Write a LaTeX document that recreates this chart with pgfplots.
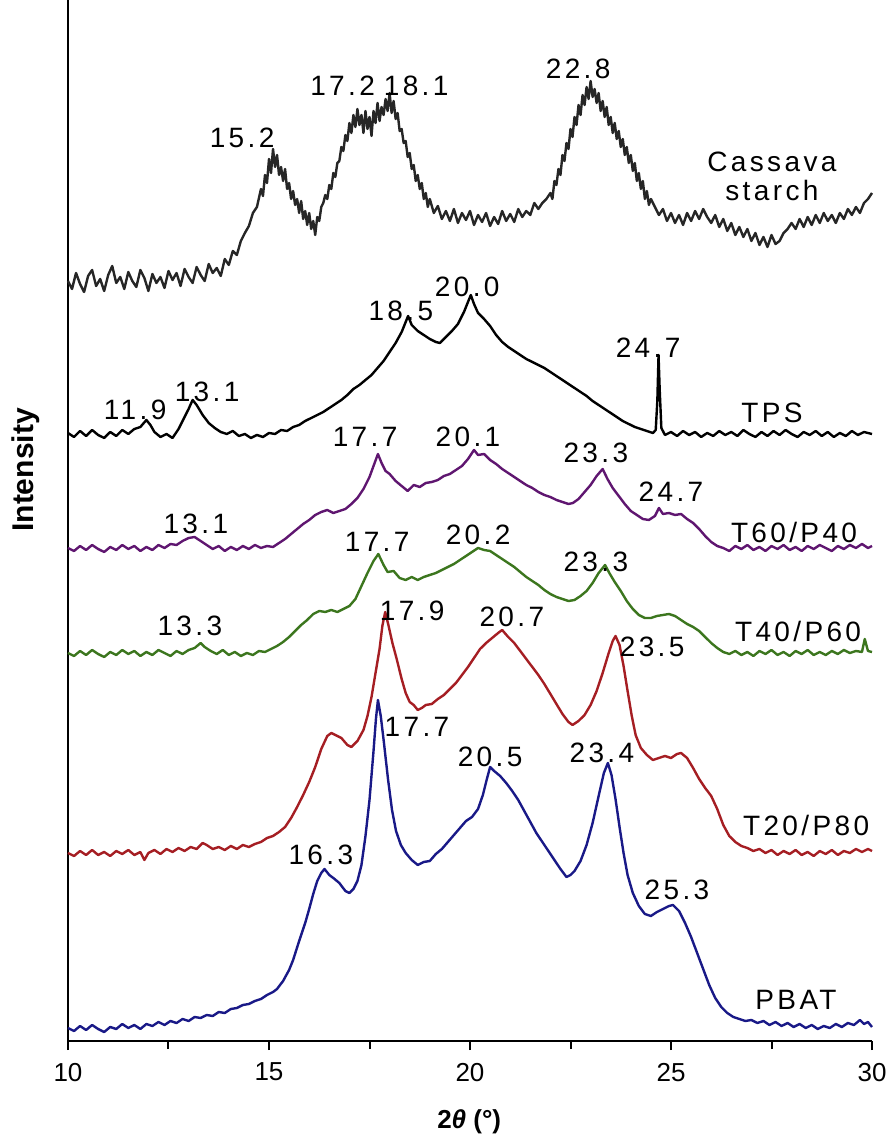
\documentclass[border=0pt]{standalone}
\usepackage{pgfplots}
\pgfplotsset{compat=1.18}
\usepackage{fontspec}
\setmainfont{Liberation Sans}
\newfontfamily\annfont[LetterSpace=12]{Liberation Sans}
\newcommand\ann{\annfont\fontsize{14}{16}\selectfont}
\definecolor{cpurple}{RGB}{95,22,112}
\definecolor{cgreen}{RGB}{60,118,30}
\definecolor{cred}{RGB}{165,30,35}
\definecolor{cblue}{RGB}{25,25,135}

\begin{document}
\begin{tikzpicture}
\useasboundingbox (-34pt,-46.5pt) rectangle (409.5pt,520.5pt);
\begin{axis}[
  at={(0pt,0pt)}, anchor=south west,
  scale only axis, width=402pt, height=520.5pt,
  xmin=10, xmax=30, ymin=0, ymax=1041,
  axis x line*=bottom, axis y line*=left,
  axis line style={line width=1.3pt, black},
  xtick={10,15,20,25,30}, minor xtick={12.5,17.5,22.5,27.5},
  ytick=\empty,
  tick align=outside, major tick length=4.5pt, minor tick length=4pt,
  every tick/.style={line width=1pt, black},
  xticklabel style={font=\fontsize{13}{15}\selectfont, yshift=-3pt},
  /pgf/number format/assume math mode=true,
  clip=false,
  every axis plot/.append style={line width=1.2pt, line join=round},
  every node/.append style={inner sep=0pt},
]
% Cassava starch
\addplot[black!85] coordinates {
(10.0,760) (10.1,752) (10.2,768) (10.3,757) (10.4,749) (10.5,765) (10.6,771) (10.7,755) (10.8,762) (10.9,750)
(11.0,766) (11.1,775) (11.2,758) (11.3,764) (11.4,752) (11.5,769) (11.6,760) (11.7,754) (11.8,771) (11.9,763)
(12.0,750) (12.1,767) (12.2,758) (12.3,764) (12.4,753) (12.5,770) (12.6,761) (12.7,768) (12.8,755) (12.9,772)
(13.0,764) (13.1,758) (13.2,774) (13.3,766) (13.4,760) (13.5,777) (13.6,768) (13.7,773) (13.8,765) (13.9,782)
(14.0,776) (14.1,790) (14.2,786) (14.3,800) (14.4,808) (14.5,815) (14.6,828) (14.7,834)
(14.8,852) (14.85,845) (14.9,866) (14.95,858) (15.0,882) (15.05,868) (15.1,892) (15.15,874) (15.2,886) (15.25,866)
(15.3,874) (15.35,860) (15.4,872) (15.45,852) (15.5,858) (15.55,842) (15.6,850) (15.65,836) (15.7,842) (15.75,828)
(15.8,840) (15.85,822) (15.9,830) (15.95,816) (16.0,828) (16.05,812) (16.1,820) (16.15,806) (16.2,824) (16.25,820)
(16.3,834) (16.35,838) (16.4,846) (16.45,842) (16.5,856) (16.55,852) (16.6,868) (16.65,864) (16.7,878) (16.75,880)
(16.8,894) (16.85,890) (16.9,906) (16.95,900) (17.0,918) (17.05,908) (17.1,926) (17.15,914) (17.2,932) (17.25,916)
(17.3,926) (17.35,908) (17.4,930) (17.45,912) (17.5,924) (17.55,905) (17.6,930) (17.65,918) (17.7,938) (17.75,920)
(17.8,934) (17.85,926) (17.9,942) (17.95,930) (18.0,948) (18.05,928) (18.1,940) (18.15,922) (18.2,928) (18.25,910)
(18.3,912) (18.35,898) (18.4,900) (18.45,884) (18.5,888) (18.55,872) (18.6,876) (18.65,860) (18.7,866) (18.75,852)
(18.8,858) (18.85,842) (18.9,848) (18.95,834) (19.0,842) (19.1,828) (19.2,835) (19.3,822) (19.4,830) (19.5,820)
(19.6,832) (19.7,818) (19.8,828) (19.9,821) (20.0,830) (20.1,816) (20.2,826) (20.3,819) (20.4,828) (20.5,815)
(20.6,824) (20.7,817) (20.8,830) (20.9,820) (21.0,827) (21.1,819) (21.2,832) (21.3,824) (21.4,830) (21.5,826)
(21.6,838) (21.7,832) (21.8,838) (21.9,842)
(22.0,848) (22.05,842) (22.1,860) (22.15,856) (22.2,872) (22.25,866) (22.3,886) (22.35,880) (22.4,898) (22.45,892)
(22.5,912) (22.55,904) (22.6,924) (22.65,916) (22.7,936) (22.75,926) (22.8,946) (22.85,936) (22.9,954) (22.95,942)
(23.0,960) (23.05,944) (23.1,952) (23.15,938) (23.2,948) (23.25,930) (23.3,940) (23.35,924) (23.4,934) (23.45,916)
(23.5,924) (23.55,908) (23.6,918) (23.65,902) (23.7,910) (23.75,894) (23.8,902) (23.85,886) (23.9,894) (23.95,878)
(24.0,886) (24.05,870) (24.1,878) (24.15,860) (24.2,868) (24.25,852) (24.3,860) (24.35,842) (24.4,850) (24.45,836)
(24.5,842) (24.6,834) (24.7,826) (24.8,832) (24.9,820) (25.0,828) (25.1,818) (25.2,826) (25.3,816) (25.4,828)
(25.5,820) (25.6,830) (25.7,822) (25.8,832) (25.9,824) (26.0,818) (26.1,826) (26.2,814) (26.3,822) (26.4,810)
(26.5,818) (26.6,806) (26.7,814) (26.8,804) (26.9,812) (27.0,800) (27.1,808) (27.2,796) (27.3,804) (27.4,794)
(27.5,806) (27.6,797) (27.7,800) (27.8,808) (27.9,812) (28.0,818) (28.1,812) (28.2,822) (28.3,814) (28.4,824)
(28.5,816) (28.6,826) (28.7,818) (28.8,828) (28.9,820) (29.0,826) (29.1,818) (29.2,828) (29.3,822) (29.4,832)
(29.5,826) (29.6,834) (29.7,828) (29.8,838) (29.9,842) (30.0,848)
};
% TPS
\addplot[black] coordinates {
(10.0,608) (10.15,604) (10.3,610) (10.45,605) (10.6,611) (10.75,606) (10.9,603) (11.05,609) (11.2,605) (11.35,611)
(11.5,607) (11.65,612) (11.8,614) (11.95,621) (12.05,616) (12.15,609) (12.3,604) (12.45,607) (12.6,603) (12.75,612)
(12.9,624) (13.0,632) (13.1,641) (13.2,636) (13.35,626) (13.5,618) (13.65,613) (13.8,609) (13.95,607) (14.1,610)
(14.25,605) (14.4,607) (14.55,603) (14.7,606) (14.85,604) (15.0,608) (15.15,607) (15.3,611) (15.45,610) (15.6,614)
(15.75,616) (15.9,620) (16.05,623) (16.2,626) (16.35,629) (16.5,633) (16.65,637) (16.8,641) (16.95,646) (17.1,652)
(17.25,656) (17.4,661) (17.55,666) (17.7,673) (17.85,680) (18.0,689) (18.15,698) (18.3,709) (18.4,719) (18.46,725)
(18.55,716) (18.7,710) (18.85,706) (19.0,702) (19.15,699) (19.25,698) (19.4,704) (19.55,710) (19.7,717) (19.85,729)
(19.95,739) (20.02,746) (20.1,737) (20.2,728) (20.35,722) (20.5,715) (20.65,706) (20.8,699) (20.95,694) (21.1,690)
(21.25,686) (21.4,682) (21.55,679) (21.7,676) (21.85,673) (22.0,669) (22.15,665) (22.3,661) (22.45,657) (22.6,653)
(22.75,649) (22.9,645) (23.05,640) (23.2,636) (23.35,632) (23.5,628) (23.65,624) (23.8,620) (23.95,617) (24.1,614)
(24.25,612) (24.4,610) (24.55,608) (24.62,611) (24.66,640) (24.69,686) (24.72,650) (24.76,613) (24.85,606) (25.0,609)
(25.15,605) (25.3,610) (25.45,606) (25.6,609) (25.75,604) (25.9,608) (26.05,605) (26.2,610) (26.35,606) (26.5,609)
(26.65,605) (26.8,611) (26.95,607) (27.1,604) (27.25,609) (27.4,605) (27.55,610) (27.7,606) (27.85,611) (28.0,607)
(28.15,604) (28.3,609) (28.45,606) (28.6,610) (28.75,605) (28.9,609) (29.05,604) (29.2,608) (29.35,605) (29.5,610)
(29.65,606) (29.8,609) (30.0,607)
};
% T60/P40
\addplot[cpurple] coordinates {
(10.0,493) (10.15,490) (10.3,495) (10.45,491) (10.6,496) (10.75,492) (10.9,489) (11.05,494) (11.2,491) (11.35,496)
(11.5,492) (11.65,495) (11.8,490) (11.95,494) (12.1,491) (12.25,496) (12.4,493) (12.55,497) (12.7,496) (12.85,500)
(13.0,503) (13.15,504) (13.3,500) (13.45,496) (13.6,492) (13.75,495) (13.9,490) (14.05,494) (14.2,491) (14.35,495)
(14.5,492) (14.65,496) (14.8,493) (14.95,495) (15.1,494) (15.25,498) (15.4,502) (15.55,507) (15.7,512) (15.85,517)
(16.0,521) (16.15,526) (16.3,529) (16.45,531) (16.6,528) (16.75,530) (16.9,532) (17.05,537) (17.2,543) (17.35,552)
(17.5,564) (17.6,575) (17.71,587) (17.8,578) (17.9,570) (18.0,567) (18.15,560) (18.3,555) (18.45,550) (18.6,556)
(18.75,554) (18.9,558) (19.05,559) (19.2,561) (19.35,565) (19.5,567) (19.65,571) (19.8,575) (19.95,582) (20.1,591)
(20.2,586) (20.35,587) (20.5,581) (20.65,577) (20.8,572) (20.95,568) (21.1,564) (21.25,560) (21.4,556) (21.55,553)
(21.7,549) (21.85,546) (22.0,544) (22.15,541) (22.3,539) (22.45,537) (22.56,538) (22.7,542) (22.85,549) (23.0,556)
(23.15,565) (23.3,572) (23.42,562) (23.55,553) (23.7,545) (23.85,537) (24.0,530) (24.15,526) (24.3,522) (24.45,521)
(24.6,525) (24.7,533) (24.8,527) (24.95,528) (25.1,526) (25.25,527) (25.4,522) (25.55,518) (25.7,512) (25.85,505)
(26.0,499) (26.15,495) (26.3,493) (26.45,490) (26.6,495) (26.75,492) (26.9,496) (27.05,491) (27.2,494) (27.35,490)
(27.5,495) (27.65,492) (27.8,496) (27.95,491) (28.1,494) (28.25,490) (28.4,495) (28.55,492) (28.7,496) (28.85,493)
(29.0,490) (29.15,495) (29.3,492) (29.45,496) (29.6,493) (29.75,497) (29.9,493) (30.0,495)
};
% T40/P60
\addplot[cgreen] coordinates {
(10.0,388) (10.15,385) (10.3,390) (10.45,386) (10.6,391) (10.75,387) (10.9,384) (11.05,389) (11.2,386) (11.35,391)
(11.5,387) (11.65,390) (11.8,385) (11.95,389) (12.1,386) (12.25,391) (12.4,388) (12.55,385) (12.7,390) (12.85,387)
(13.0,391) (13.15,393) (13.3,398) (13.4,394) (13.55,390) (13.7,387) (13.85,391) (14.0,386) (14.15,389) (14.3,385)
(14.45,388) (14.6,386) (14.75,390) (14.9,389) (15.05,392) (15.2,395) (15.35,399) (15.5,404) (15.65,410) (15.8,416)
(15.95,421) (16.1,427) (16.25,430) (16.4,429) (16.55,431) (16.7,429) (16.85,432) (17.0,435) (17.15,442) (17.3,455)
(17.45,468) (17.6,480) (17.72,487) (17.85,476) (17.95,469) (18.1,470) (18.25,463) (18.4,461) (18.55,464) (18.7,461)
(18.85,464) (19.0,466) (19.15,468) (19.3,471) (19.45,474) (19.6,477) (19.75,481) (19.9,485) (20.05,489) (20.2,493)
(20.35,491) (20.5,490) (20.65,486) (20.8,482) (20.95,478) (21.1,474) (21.25,469) (21.4,464) (21.55,460) (21.7,456)
(21.85,451) (22.0,447) (22.15,444) (22.3,442) (22.45,440) (22.6,441) (22.75,445) (22.9,450) (23.05,458) (23.2,468)
(23.36,476) (23.48,467) (23.6,459) (23.75,450) (23.9,440) (24.05,432) (24.2,426) (24.35,423) (24.5,423) (24.65,425)
(24.8,426) (24.95,427) (25.1,425) (25.25,421) (25.4,417) (25.55,414) (25.7,410) (25.85,404) (26.0,398) (26.15,393)
(26.3,389) (26.45,387) (26.6,390) (26.75,386) (26.9,389) (27.05,385) (27.2,390) (27.35,387) (27.5,391) (27.65,386)
(27.8,389) (27.95,385) (28.1,390) (28.25,387) (28.4,391) (28.55,386) (28.7,389) (28.85,386) (29.0,390) (29.15,387)
(29.3,391) (29.45,388) (29.6,390) (29.75,389) (29.82,402) (29.9,390) (30.0,389)
};
% T20/P80
\addplot[cred] coordinates {
(10.0,188) (10.15,185) (10.3,190) (10.45,186) (10.6,191) (10.75,186) (10.9,189) (11.05,185) (11.2,190) (11.35,187)
(11.5,191) (11.65,186) (11.8,189) (11.9,181) (12.0,188) (12.15,191) (12.3,187) (12.45,192) (12.6,189) (12.75,193)
(12.9,190) (13.05,194) (13.2,192) (13.35,198) (13.45,196) (13.6,192) (13.75,194) (13.9,191) (14.05,195) (14.2,192)
(14.35,196) (14.5,194) (14.65,197) (14.8,199) (14.95,203) (15.1,205) (15.25,209) (15.4,214) (15.55,223) (15.7,234)
(15.85,246) (16.0,259) (16.15,274) (16.3,292) (16.45,305) (16.55,308) (16.65,306) (16.8,303) (16.95,296) (17.05,294)
(17.2,300) (17.35,311) (17.45,325) (17.55,344) (17.65,368) (17.75,392) (17.82,415) (17.89,429) (17.97,416) (18.07,398)
(18.17,383) (18.3,362) (18.4,348) (18.5,339) (18.6,336) (18.7,331) (18.8,333) (18.9,336) (19.05,337) (19.2,342)
(19.35,346) (19.5,352) (19.65,358) (19.8,366) (19.95,374) (20.1,383) (20.25,392) (20.4,398) (20.55,403) (20.7,408)
(20.8,411) (20.95,404) (21.1,398) (21.25,390) (21.4,382) (21.55,374) (21.7,366) (21.85,357) (22.0,347) (22.15,337)
(22.3,327) (22.45,319) (22.55,316) (22.7,320) (22.85,326) (23.0,336) (23.15,350) (23.3,368) (23.45,388) (23.55,400)
(23.62,405) (23.72,396) (23.82,375) (23.92,350) (24.02,326) (24.12,306) (24.25,293) (24.4,286) (24.55,281) (24.7,283)
(24.85,285) (25.0,283) (25.15,287) (25.25,288) (25.4,283) (25.55,273) (25.7,262) (25.85,253) (26.0,245) (26.15,232)
(26.3,216) (26.45,205) (26.6,199) (26.75,195) (26.9,193) (27.05,190) (27.2,192) (27.35,188) (27.5,191) (27.65,186)
(27.8,190) (27.95,187) (28.1,191) (28.25,186) (28.4,189) (28.55,185) (28.7,190) (28.85,187) (29.0,191) (29.15,186)
(29.3,190) (29.45,188) (29.6,192) (29.75,189) (29.9,192) (30.0,190)
};
% PBAT
\addplot[cblue] coordinates {
(10.0,13) (10.15,10) (10.3,15) (10.45,11) (10.6,16) (10.75,12) (10.9,9) (11.05,14) (11.2,12) (11.35,17)
(11.5,13) (11.65,16) (11.8,12) (11.95,17) (12.1,15) (12.25,19) (12.4,16) (12.55,20) (12.7,18) (12.85,22)
(13.0,20) (13.15,24) (13.3,23) (13.45,26) (13.6,25) (13.75,29) (13.9,28) (14.05,32) (14.2,33) (14.35,36)
(14.5,37) (14.65,40) (14.8,42) (14.95,46) (15.1,49) (15.2,52) (15.35,60) (15.5,71) (15.6,81) (15.75,100)
(15.9,118) (16.0,132) (16.1,147) (16.2,160) (16.3,168) (16.38,172) (16.5,166) (16.6,163) (16.75,158) (16.9,150)
(17.0,148) (17.1,152) (17.2,160) (17.3,176) (17.4,205) (17.5,241) (17.6,290) (17.66,322) (17.71,341) (17.78,325)
(17.86,298) (17.96,262) (18.06,231) (18.16,210) (18.28,196) (18.4,188) (18.55,181) (18.7,176) (18.85,179) (19.0,180)
(19.15,187) (19.3,192) (19.45,199) (19.6,206) (19.75,213) (19.9,220) (20.05,224) (20.2,232) (20.32,246) (20.42,262)
(20.5,274) (20.6,270) (20.75,265) (20.9,258) (21.05,250) (21.2,241) (21.35,230) (21.5,219) (21.65,208) (21.8,199)
(21.95,190) (22.1,181) (22.25,172) (22.4,164) (22.5,166) (22.6,170) (22.75,180) (22.9,196) (23.05,218) (23.2,245)
(23.33,268) (23.43,278) (23.52,266) (23.62,242) (23.72,214) (23.82,188) (23.92,166) (24.05,148) (24.2,135) (24.35,127)
(24.5,125) (24.65,129) (24.8,132) (24.95,135) (25.05,136) (25.2,130) (25.35,118) (25.5,104) (25.65,88) (25.8,72)
(25.95,56) (26.1,43) (26.25,34) (26.4,28) (26.55,24) (26.7,22) (26.85,20) (27.0,21) (27.15,18) (27.3,20)
(27.45,16) (27.6,19) (27.75,15) (27.9,18) (28.05,14) (28.2,17) (28.35,13) (28.5,16) (28.65,12) (28.8,15)
(28.95,13) (29.1,17) (29.25,14) (29.4,18) (29.55,16) (29.7,21) (29.8,17) (29.9,19) (30.0,14)
};
% peak labels
\node[font=\ann] at (axis cs:14.33,903) {15.2};
\node[font=\ann] at (axis cs:16.83,955) {17.2};
\node[font=\ann] at (axis cs:18.66,955) {18.1};
\node[font=\ann] at (axis cs:22.69,972) {22.8};
\node[font=\ann] at (axis cs:27.51,879) {Cassava};
\node[font=\ann] at (axis cs:27.51,850) {starch};
\node[font=\ann] at (axis cs:19.93,754) {20.0};
\node[font=\ann] at (axis cs:18.28,730) {18.5};
\node[font=\ann] at (axis cs:24.43,693) {24.7};
\node[font=\ann] at (axis cs:11.67,631) {11.9};
\node[font=\ann] at (axis cs:13.46,649) {13.1};
\node[font=\ann] at (axis cs:27.51,628) {TPS};
\node[font=\ann] at (axis cs:17.39,604) {17.7};
\node[font=\ann] at (axis cs:19.95,604) {20.1};
\node[font=\ann] at (axis cs:23.13,588) {23.3};
\node[font=\ann] at (axis cs:25.0,549) {24.7};
\node[font=\ann] at (axis cs:13.18,517) {13.1};
\node[font=\ann] at (axis cs:28.06,509) {T60/P40};
\node[font=\ann] at (axis cs:17.69,499) {17.7};
\node[font=\ann] at (axis cs:20.20,506) {20.2};
\node[font=\ann] at (axis cs:23.13,479) {23.3};
\node[font=\ann] at (axis cs:13.03,415) {13.3};
\node[font=\ann] at (axis cs:28.16,410) {T40/P60};
\node[font=\ann] at (axis cs:18.56,430) {17.9};
\node[font=\ann] at (axis cs:21.04,424) {20.7};
\node[font=\ann] at (axis cs:24.53,394) {23.5};
\node[font=\ann] at (axis cs:28.36,216) {T20/P80};
\node[font=\ann] at (axis cs:18.68,314) {17.7};
\node[font=\ann] at (axis cs:20.50,284) {20.5};
\node[font=\ann] at (axis cs:23.28,288) {23.4};
\node[font=\ann] at (axis cs:16.29,186) {16.3};
\node[font=\ann] at (axis cs:25.15,151) {25.3};
\node[font=\ann] at (axis cs:28.11,41) {PBAT};
% axis titles
\node[font=\bfseries\fontsize{13}{15}\selectfont] at (axis cs:19.98,-81) {2\textit{θ} (°)};
\node[rotate=90, font=\bfseries\fontsize{15}{17}\selectfont] at (axis cs:8.955,571) {Intensity};
\end{axis}
\end{tikzpicture}
\end{document}
